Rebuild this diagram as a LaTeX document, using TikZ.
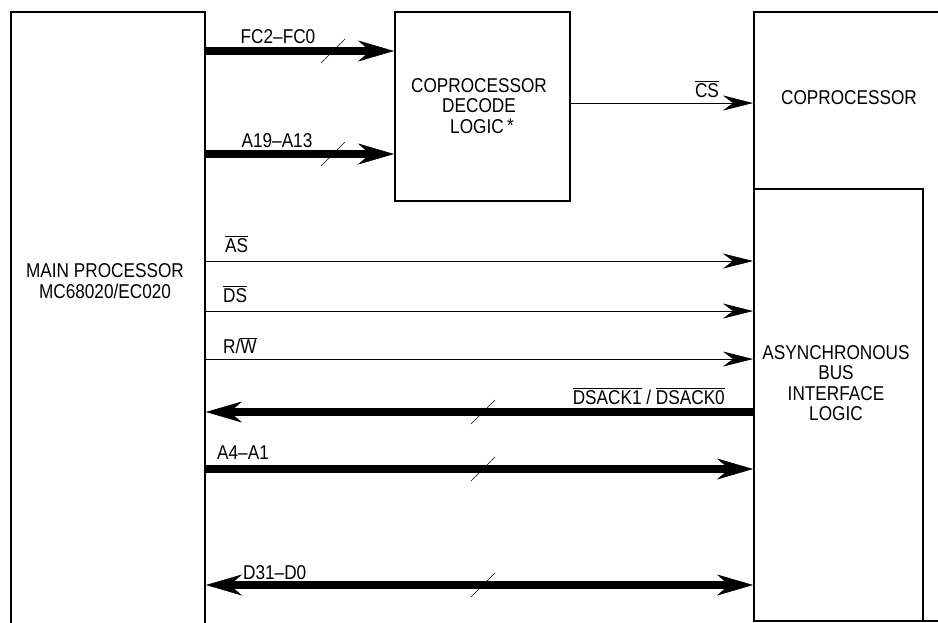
\documentclass[tikz,border=0pt]{standalone}
\usepackage{fontspec}
\setmainfont{Liberation Sans}[FakeStretch=0.86]
\usepackage{tikz}
\usetikzlibrary{arrows.meta}
\newcommand{\ovl}[1]{$\overline{\mbox{#1}}$}

\begin{document}
\begin{tikzpicture}[x=1pt,y=-1pt,
    >={Stealth[length=36pt,width=21pt,inset=12pt,line width=0.5pt]}]
          \tikzstyle{blk}=[draw,line width=2pt,inner sep=0pt]
          \tikzstyle{txt}=[inner sep=0pt,align=center,font=\fontsize{20}{20.5}\selectfont]
          \tikzstyle{lbl}=[inner sep=0pt,font=\fontsize{20}{20.5}\selectfont]
          \tikzstyle{sig}=[draw,line width=1pt,-{Stealth[length=30pt,width=15pt,inset=10pt,line width=0.5pt]}]
          \tikzstyle{bus}=[draw,line width=7.5pt]
          \tikzstyle{slash}=[draw,line width=.6pt]
          \useasboundingbox (0,0) rectangle (938,622);
          \clip (0,0) rectangle (938,622);
          \node[blk,anchor=north west,minimum width=194pt,minimum height=640pt] (main) at (10,11) {};
          \node[blk,anchor=north west,minimum width=175pt,minimum height=189pt] (dec) at (394,11) {};
          \node[blk,anchor=north west,minimum width=220pt,minimum height=609pt] (cop) at (753,11) {};
          \node[blk,anchor=north west,minimum width=169pt,minimum height=432pt] (bif) at (753,188) {};
          \node[txt] (mainlbl) at (105,281) {MAIN PROCESSOR\\MC68020/EC020};
          \node[txt] (declbl) at (479,106) {COPROCESSOR\\DECODE\\\hspace{6pt}LOGIC\,\raisebox{1pt}{*}};
          \node[txt] (coplbl) at (849,98) {COPROCESSOR};
          \node[txt] (biflbl) at (836,383) {ASYNCHRONOUS\\BUS\\INTERFACE\\LOGIC};
          \coordinate (fc) at (0,51);
          \coordinate (ah) at (0,154);
          \coordinate (cs) at (0,103);
          \coordinate (as) at (0,261);
          \coordinate (ds) at (0,311);
          \coordinate (rw) at (0,359);
          \coordinate (ack) at (0,412);
          \coordinate (al) at (0,469);
          \coordinate (db) at (0,585);
          \draw[bus,->] (main.east |- fc) -- (dec.west |- fc);
          \draw[bus,->] (main.east |- ah) -- (dec.west |- ah);
          \draw[sig] (dec.east |- cs) -- (cop.west |- cs);
          \foreach \s in {as,ds,rw}{
            \draw[sig] (main.east |- \s) -- (bif.west |- \s);
            }
          \draw[bus,->] (bif.west |- ack) -- (main.east |- ack);
          \draw[bus,->] (main.east |- al) -- (bif.west |- al);
          \draw[bus,<->] (main.east |- db) -- (bif.west |- db);
          \foreach \x/\y in {333/51,333/154,483/412,483/469,483/585}{
            \draw[slash] (\x-12,\y+12) -- (\x+12,\y-12);
            }
          \node[lbl,anchor=base] (fclbl) at (278,43) {FC2--FC0};
          \node[lbl,anchor=base] (ahlbl) at (277,147) {A19--A13};
          \node[lbl,anchor=base] (cslbl) at (707,97) {\ovl{CS}};
          \node[lbl,anchor=base west] (aslbl) at (225,252) {\ovl{AS}};
          \node[lbl,anchor=base west] (dslbl) at (223,302) {\ovl{DS}};
          \node[lbl,anchor=base west] (rwlbl) at (223,353) {R/\ovl{W}};
          \node[lbl,anchor=base east] (acklbl) at (725,404) {\ovl{DSACK1} / \ovl{DSACK0}};
          \node[lbl,anchor=base west] (allbl) at (217,459) {A4--A1};
          \node[lbl,anchor=base west] (dblbl) at (243,579) {D31--D0};
\end{tikzpicture}
\end{document}
